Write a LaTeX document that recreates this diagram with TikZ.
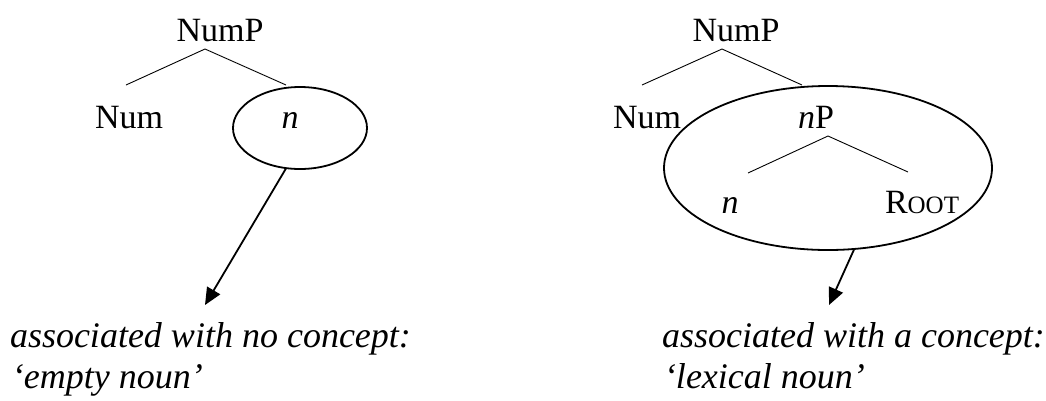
\documentclass[tikz,border=0pt]{standalone}
\usepackage{fontspec}
\setmainfont{Liberation Serif}
\usetikzlibrary{shapes.geometric,arrows.meta}
\tikzset{
  lab/.style={anchor=base,inner sep=0pt,outer sep=0pt,font=\fontsize{34}{34}\selectfont},
  capt/.style={anchor=base west,inner sep=0pt,outer sep=0pt,font=\fontsize{36}{41}\selectfont\itshape},
  branch/.style={line width=0.9pt},
  blob/.style={draw,ellipse,line width=1.8pt,inner sep=0pt,outer sep=0pt},
  ptr/.style={line width=1.8pt,-{Triangle[length=17pt,width=15pt]}}
}
\begin{document}
\begin{tikzpicture}[x=1pt,y=-1pt]
\useasboundingbox (0,0) rectangle (1046,400);
% ---------- left tree ----------
\node[lab] (lnump) at (220,41) {NumP};
\coordinate (lapex) at (205,49);
\coordinate (lleft) at (126,85);
\coordinate (lright) at (286,85);
\draw[branch] (lleft) -- (lapex) -- (lright);
\node[lab] (lnum) at (129,128) {Num};
\node[blob,minimum width=134pt,minimum height=82pt] (lell) at (300,128) {};
\node[lab] (ln) at (290,128) {\itshape n};
\coordinate (ltip) at (205,305);
\draw[ptr] (lell.-109.7) -- (ltip);
\node[capt] (lc1) at (10,347) {associated with no concept:};
\node[capt] (lc2) at (12,388) {‘empty noun’};
% ---------- right tree ----------
\node[lab] (rnump) at (736,41) {NumP};
\coordinate (rapex) at (722,49);
\coordinate (rleft) at (642,85);
\coordinate (rright) at (802,85);
\draw[branch] (rleft) -- (rapex) -- (rright);
\node[lab] (rnum) at (647,128) {Num};
\node[blob,minimum width=328pt,minimum height=164pt] (rell) at (828,168) {};
\node[lab] (rnp) at (816,128) {{\itshape n}P};
\coordinate (napex) at (828,136);
\coordinate (nleft) at (748,173);
\coordinate (nright) at (908,172);
\draw[branch] (nleft) -- (napex) -- (nright);
\node[lab] (rn) at (730,213) {\itshape n};
\node[lab,anchor=base west] (root) at (885,213) {R{\fontsize{25}{25}\selectfont OOT}};
\coordinate (rtip) at (829,305);
\draw[ptr] (rell.-72.2) -- (rtip);
\node[capt] (rc1) at (662,347) {associated with a concept:};
\node[capt] (rc2) at (664,388) {‘lexical noun’};
\end{tikzpicture}
\end{document}
